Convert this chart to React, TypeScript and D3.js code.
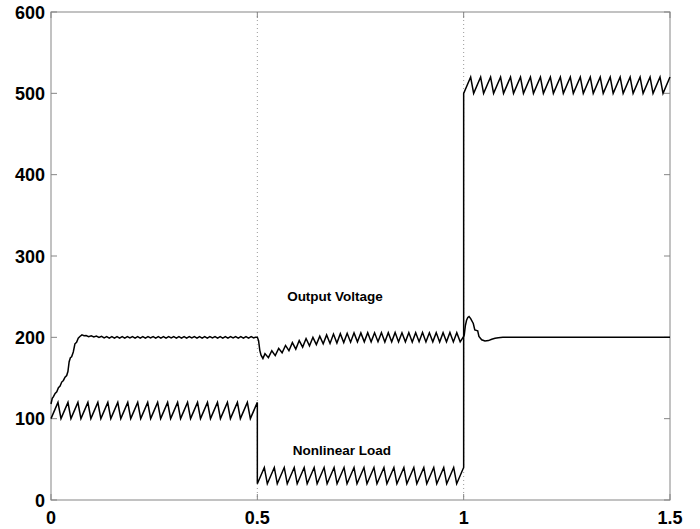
import React from 'react';
import * as d3 from 'd3';

// y ticks and x ticks as printed on the figure
const yTicks = [0, 100, 200, 300, 400, 500, 600];
const xTicks = [0, 0.5, 1, 1.5];
const xTickLabels = ['0', '0.5', '1', '1.5'];
const gridX = [0.5, 1];

// Output voltage: start-up
const startupT = [0, 0.003, 0.006, 0.010, 0.014, 0.018, 0.022, 0.026, 0.030, 0.034, 0.038, 0.041, 0.044, 0.047, 0.050, 0.054, 0.058, 0.062, 0.066, 0.070, 0.075, 0.080];
const startupV = [118, 125, 127, 131, 133, 138, 140, 145, 147, 151, 153, 158, 170, 175, 176, 182, 192, 194, 199, 201, 203, 202];

// Output voltage: small ripple 0.085 .. 0.49 (half-period steps)
const rippleAStart = 0.085;
const rippleAStep = 0.00625;
const rippleA = [
  202.2, 200.8, 201.8, 200.4, 201.5, 199.9, 201.2, 199.4, 201.0, 199.1,
  200.9, 199.1, 200.9, 199.1, 201.0, 199.1, 200.9, 199.2, 200.9, 199.1,
  200.9, 199.1, 201.0, 199.1, 200.9, 199.2, 200.9, 199.1, 200.9, 199.1,
  201.0, 199.1, 200.9, 199.2, 200.9, 199.1, 200.9, 199.1, 201.0, 199.1,
  200.9, 199.2, 200.9, 199.1, 200.9, 199.1, 201.0, 199.1, 200.9, 199.2,
  200.9, 199.1, 200.9, 199.1, 201.0, 199.1, 200.9, 199.2, 200.9, 199.1,
  200.9, 199.1, 201.0, 199.1, 200.9, 199.2,
];

// Output voltage: dip after the load step at 0.5
const dipT = [0.495, 0.5, 0.503, 0.506, 0.509, 0.5135];
const dipV = [200, 200, 196, 184, 178, 174];

// Output voltage: larger ripple 0.5185 .. 0.99
const rippleBStart = 0.5185;
const rippleBStep = 0.0083;
const rippleB = [
  180, 175, 183.5, 177.5, 186.5, 181, 190, 183.5, 193.5, 185.5,
  196, 188, 198.5, 189.5, 200, 191, 201.5, 192, 203, 192.5,
  204, 193, 204.5, 193.5, 205, 194, 205.5, 194.5, 205.5, 194.5,
  205.8, 194.4, 205.6, 194.6, 205.8, 194.3, 205.7, 194.5, 205.9, 194.4,
  205.6, 194.5, 205.8, 194.3, 205.7, 194.6, 205.9, 194.4, 205.6, 194.5,
  205.8, 194.3, 205.7, 194.5, 205.9, 194.4, 205.7, 194.5,
];

// Output voltage: overshoot at 1.0 and settling
const stepT = [1.0, 1.0015, 1.004, 1.007, 1.010, 1.013, 1.017, 1.0233, 1.027, 1.034, 1.037, 1.0436, 1.0516, 1.060, 1.068, 1.076, 1.084, 1.095, 1.5];
const stepV = [201, 203, 214, 221, 224.5, 225.5, 223, 217, 209, 208, 201, 197, 195.5, 196, 197.6, 198.8, 199.6, 200, 200];

// Nonlinear load: sawtooth segments
const loadStart = [0, 0.5, 1.0];
const loadLow = [100, 20, 500];
const loadHigh = [120, 40, 520];
const toothOffsets = [0, 0.0242, 0.0483, 0.0725, 0.0966, 0.1208, 0.1449, 0.1691, 0.1932, 0.2174, 0.2415, 0.2657, 0.2899, 0.3140, 0.3382, 0.3623, 0.3865, 0.4106, 0.4348, 0.4589, 0.4831];
const toothRise = 0.0169;

const W = 700;
const H = 529;
const left = 51;
const right = 670;
const top = 12;
const bottom = 500;
const axisColor = '#858585';
const font = '"Liberation Sans", Arial, Helvetica, sans-serif';

export default function App() {
  const x = d3.scaleLinear().domain([0, 1.5]).range([left, right]);
  const y = d3.scaleLinear().domain([0, 600]).range([bottom, top]);

  const voltage: [number, number][] = [];
  startupT.forEach((t, i) => voltage.push([t, startupV[i]]));
  rippleA.forEach((v, i) => voltage.push([rippleAStart + i * rippleAStep, v]));
  dipT.forEach((t, i) => voltage.push([t, dipV[i]]));
  rippleB.forEach((v, i) => voltage.push([rippleBStart + i * rippleBStep, v]));
  stepT.forEach((t, i) => voltage.push([t, stepV[i]]));

  const load: [number, number][] = [];
  loadStart.forEach((s, j) => {
    toothOffsets.forEach(o => {
      load.push([s + o, loadLow[j]]);
      load.push([s + o + toothRise, loadHigh[j]]);
    });
  });

  const line = d3.line<[number, number]>().x(d => x(d[0])).y(d => y(d[1]));
  const tickLen = 6;

  return (
    <svg width={W} height={H} style={{ position: 'absolute', left: 0, top: 0, background: '#fff' }}>
      <rect x={0} y={0} width={W} height={H} fill="#fff" />
      {gridX.map(g => (
        <line key={'g' + g} x1={x(g)} x2={x(g)} y1={top} y2={bottom}
          stroke="#9a9a9a" strokeWidth={1} strokeDasharray="1,3" />
      ))}
      <rect x={left} y={top} width={right - left} height={bottom - top}
        fill="none" stroke={axisColor} strokeWidth={1} />
      {yTicks.map(t => (
        <g key={'y' + t}>
          <line x1={left} x2={left + tickLen} y1={y(t)} y2={y(t)} stroke={axisColor} />
          <line x1={right} x2={right - tickLen} y1={y(t)} y2={y(t)} stroke={axisColor} />
          <text x={left - 6} y={y(t) + 6.5} textAnchor="end" fontFamily={font}
            fontWeight="bold" fontSize={18} fill="#000">{t}</text>
        </g>
      ))}
      {xTicks.map((t, i) => (
        <g key={'x' + t}>
          <line x1={x(t)} x2={x(t)} y1={bottom} y2={bottom - tickLen} stroke={axisColor} />
          <line x1={x(t)} x2={x(t)} y1={top} y2={top + tickLen} stroke={axisColor} />
          <text x={x(t)} y={bottom + 24} textAnchor="middle" fontFamily={font}
            fontWeight="bold" fontSize={18} fill="#000">{xTickLabels[i]}</text>
        </g>
      ))}
      <path d={line(load) || ''} fill="none" stroke="#000" strokeWidth={1.5} strokeLinejoin="miter" />
      <path d={line(voltage) || ''} fill="none" stroke="#000" strokeWidth={1.5} />
      <text x={335} y={300.5} textAnchor="middle" fontFamily={font} fontWeight="bold"
        fontSize={13.5} fill="#000">Output Voltage</text>
      <text x={342} y={454.5} textAnchor="middle" fontFamily={font} fontWeight="bold"
        fontSize={13.5} fill="#000">Nonlinear Load</text>
    </svg>
  );
}
